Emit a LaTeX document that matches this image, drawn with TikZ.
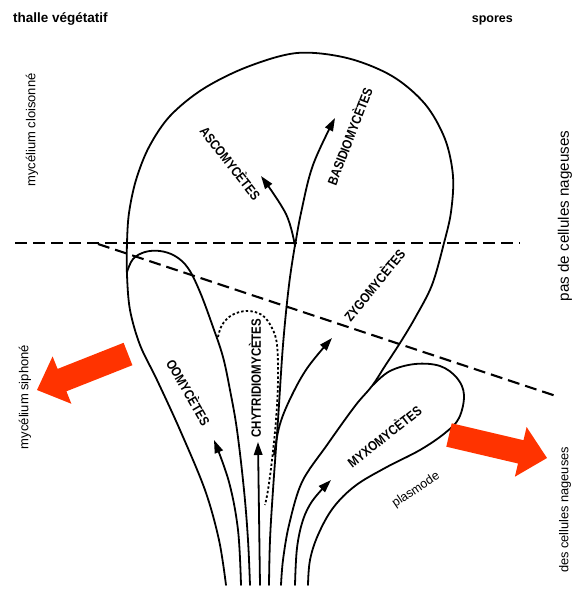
\documentclass[tikz,border=0pt]{standalone}
\usepackage{fontspec}
\setmainfont{Liberation Sans}
\newfontfamily\capsfont[FakeStretch=0.85]{Liberation Sans}
\usetikzlibrary{arrows.meta}
\definecolor{arrowred}{RGB}{255,51,0}
\begin{document}
\begin{tikzpicture}[x=1pt,y=-1pt,
  curve/.style={line width=1.8pt, line cap=round},
  flow/.style={curve, -{Triangle[length=13pt,width=8.5pt]}},
  divider/.style={line width=2.1pt, dash pattern=on 12pt off 6pt},
  chytrid/.style={line width=1.8pt, dash pattern=on 2.4pt off 2.2pt},
  taxon/.style={font=\capsfont\bfseries\fontsize{13.5}{13.5}\selectfont, inner sep=0pt},
  sidelabel/.style={inner sep=0pt, rotate=90},
  toplabel/.style={font=\bfseries\fontsize{12.5}{12.5}\selectfont, inner sep=0pt},
  bigarrow/.style={fill=arrowred, draw=none}]
\useasboundingbox (0,0) rectangle (579,590);

% dashed dividers
\coordinate (hL) at (15,243);
\coordinate (hR) at (520,243);
\coordinate (dL) at (98,244);
\coordinate (dR) at (556,396);
\draw[divider] (hL) -- (hR);
\draw[divider] (dL) -- (dR);

% big balloon (left side shared with Oomycetes lobe)
\draw[curve] plot[smooth, tension=0.55] coordinates {
  (226,585) (219,540) (205,490) (180,430) (157,380) (140,345) (130,310)
  (127,275) (127,243) (129,213) (136,180) (149,147) (170,116) (203,89)
  (247,67) (297,53) (347,58) (392,76) (425,104) (445,139) (453,176)
  (451,212) (444,243) (432,285) (415,318) (400,343) (385,366) (372,386)
  (355,406) (327,445) (302,482) (289,525) (283,560) (281,585)};

% Oomycetes lobe
\draw[curve] plot[smooth, tension=0.6] coordinates {
  (127,272) (133,259) (145,252) (160,251) (175,256) (188,268) (200,292)
  (213,327) (223,357) (230,390) (237,430) (244,490) (248,540) (250,585)};

% Chytridiomycetes lobe (dotted)
\draw[chytrid] plot[smooth, tension=0.6] coordinates {
  (218,337) (222,325) (232,315) (247,311) (262,315) (272,328) (277,345)
  (278,380) (276,420) (272,460) (268,490) (265,505)};

% Myxomycetes lobe
\draw[curve] plot[smooth, tension=0.6] coordinates {
  (373,385) (390,371) (415,364) (440,366) (457,378) (464,395) (459,418)
  (445,433) (420,450) (385,468) (355,486) (333,508) (318,535) (310,560)
  (308,585)};

% central stem
\draw[curve] plot[smooth, tension=0.6] coordinates {
  (269,585) (270,540) (273,490) (278,420) (283,345) (289,285) (295,245)};

% arrows
\draw[flow] plot[smooth, tension=0.6] coordinates {(295,246) (286,214) (261,176)};
\draw[flow] plot[smooth, tension=0.6] coordinates {(295,246) (301,213) (313,165) (335,118)};
\draw[flow] plot[smooth, tension=0.6] coordinates {(274,455) (280,424) (292,395) (308,367) (332,338)};
\draw[flow] plot[smooth, tension=0.6] coordinates {(241,585) (238,530) (229,482) (214,440)};
\draw[flow] (260,585) -- (258,442);
\draw[flow] plot[smooth, tension=0.6] coordinates {(295,585) (297,548) (303,520) (313,500) (331,480)};

% red arrows
\draw[bigarrow] (123.6,342.8) -- (57.6,368.9) -- (52.6,356.4) -- (37,390)
  -- (71.4,403.8) -- (66.4,391.3) -- (132.4,365.2) -- cycle;
\draw[bigarrow] (451.7,423.3) -- (523.5,440.2) -- (526.6,427.0) -- (547,458)
  -- (514.9,476.7) -- (518.0,463.5) -- (446.3,446.7) -- cycle;

% taxon labels
\node[taxon, rotate=-52] (asco) at (231,163) {ASCOMYCÈTES};
\node[taxon, rotate=69] (basidio) at (349,136) {BASIDIOMYCÈTES};
\node[taxon, rotate=51] (zygo) at (374,285) {ZYGOMYCÈTES};
\node[taxon, rotate=90] (chytr) at (255,378) {CHYTRIDIOMYCÈTES};
\node[taxon, rotate=-60] (oomy) at (189,392) {OOMYCÈTES};
\node[taxon, rotate=38] (myxo) at (384,436) {MYXOMYCÈTES};
\node[inner sep=0pt, rotate=34, font=\fontsize{12.5}{12.5}\selectfont] (plasm) at (416,490) {plasmode};

% frame labels
\node[toplabel, anchor=base west, font=\bfseries\fontsize{13.5}{13.5}\selectfont] (thalle) at (13,22) {thalle végétatif};
\node[toplabel, anchor=base east] (spores) at (513,22) {spores};
\node[sidelabel, font=\fontsize{13}{13}\selectfont] (cloison) at (32,130) {mycélium cloisonné};
\node[sidelabel, font=\fontsize{13}{13}\selectfont] (siphon) at (25,397) {mycélium siphoné};
\node[sidelabel, font=\fontsize{15.2}{15.2}\selectfont] (pasnag) at (565,216) {pas de cellules nageuses};
\node[sidelabel, font=\fontsize{12.8}{12.8}\selectfont] (desnag) at (565,510) {des cellules nageuses};
\end{tikzpicture}
\end{document}
